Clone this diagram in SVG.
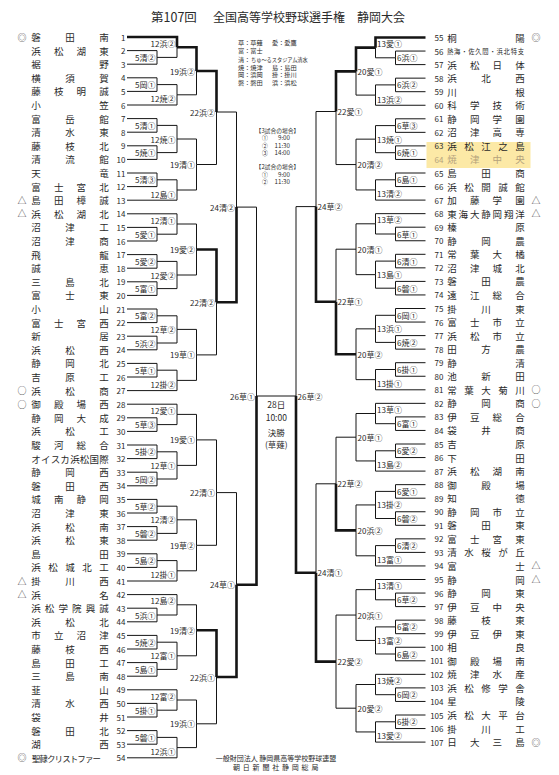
<svg xmlns="http://www.w3.org/2000/svg" width="559" height="775" viewBox="0 0 559 775">
<style>
.n{fill:none;stroke:#151515;stroke-width:1}
.k{fill:none;stroke:#151515;stroke-width:2.6}
text{font-family:"Noto Sans CJK JP","Noto Sans",sans-serif;fill:#2a2a2a;dominant-baseline:central}
.nm{font-size:9.5px;text-anchor:middle}
.nl{font-size:8px;text-anchor:end}
.nr{font-size:8px;text-anchor:end}
.mk{font-size:9px;text-anchor:middle;fill:#444}
.ll{font-size:8px;text-anchor:end}
.lr{font-size:8px;text-anchor:start}
.lg{font-size:6.2px}
.tm{font-size:5.8px}
.tt{font-size:6.2px;text-anchor:end}
.ft{font-size:7px;text-anchor:middle}
</style>
<rect width="559" height="775" fill="#fff"/>
<rect x="426.5" y="142" width="104" height="26" fill="#fce9a6"/>
<g id="title">
<text x="151" y="16" style="font-size:12.5px">第107回</text>
<text x="213" y="16" style="font-size:12px">全国高等学校野球選手権</text>
<text x="357" y="16" style="font-size:12px">静岡大会</text>
</g>
<g id="legend">
<text class="lg" x="238" y="42">草：草薙</text><text class="lg" x="272" y="42">愛：愛鷹</text>
<text class="lg" x="238" y="50.5">富：富士</text>
<text class="lg" x="238" y="59">清：</text><text x="251" y="59" style="font-size:5.2px">ちゅ～るスタジアム清水</text>
<text class="lg" x="238" y="67">焼：焼津</text><text class="lg" x="272" y="67">島：島田</text>
<text class="lg" x="238" y="74.5">岡：浜岡</text><text class="lg" x="272" y="74.5">掛：掛川</text>
<text class="lg" x="238" y="82">磐：磐田</text><text class="lg" x="272" y="82">浜：浜松</text>
</g>
<g id="times">
<text class="tm" x="277.5" y="130" text-anchor="middle">【3試合の場合】</text>
<text class="tm" x="265" y="137.7" text-anchor="middle">①</text><text class="tt" x="290" y="137.7">9:00</text>
<text class="tm" x="265" y="145.3" text-anchor="middle">②</text><text class="tt" x="290" y="145.3">11:30</text>
<text class="tm" x="265" y="152.9" text-anchor="middle">③</text><text class="tt" x="290" y="152.9">14:00</text>
<text class="tm" x="277.5" y="166.5" text-anchor="middle">【2試合の場合】</text>
<text class="tm" x="265" y="174.2" text-anchor="middle">①</text><text class="tt" x="290" y="174.2">9:00</text>
<text class="tm" x="265" y="181.8" text-anchor="middle">②</text><text class="tt" x="290" y="181.8">11:30</text>
</g>
<g id="connectors">
<path class="n" d="M127 50.6H157V57.4"/><path class="n" d="M127 64.2H157V57.4"/>
<path class="n" d="M127 77.8H157V84.6"/><path class="n" d="M127 91.4H157V84.6"/>
<path class="n" d="M127 118.6H157V125.4"/><path class="n" d="M127 132.2H157V125.4"/>
<path class="n" d="M127 145.8H157V152.6"/><path class="n" d="M127 159.4H157V152.6"/>
<path class="n" d="M127 173H157V179.8"/><path class="n" d="M127 186.6H157V179.8"/>
<path class="n" d="M127 227.4H157V234.2"/><path class="n" d="M127 241H157V234.2"/>
<path class="n" d="M127 254.6H157V261.4"/><path class="n" d="M127 268.2H157V261.4"/>
<path class="n" d="M127 281.8H157V288.6"/><path class="n" d="M127 295.4H157V288.6"/>
<path class="n" d="M127 309H157V315.8"/><path class="n" d="M127 322.6H157V315.8"/>
<path class="n" d="M127 336.2H157V343"/><path class="n" d="M127 349.8H157V343"/>
<path class="n" d="M127 363.4H157V370.2"/><path class="n" d="M127 377H157V370.2"/>
<path class="n" d="M127 417.8H157V424.6"/><path class="n" d="M127 431.4H157V424.6"/>
<path class="n" d="M127 445H157V451.8"/><path class="n" d="M127 458.6H157V451.8"/>
<path class="n" d="M127 472.2H157V479"/><path class="n" d="M127 485.8H157V479"/>
<path class="n" d="M127 499.4H157V506.2"/><path class="n" d="M127 513H157V506.2"/>
<path class="n" d="M127 526.6H157V533.4"/><path class="n" d="M127 540.2H157V533.4"/>
<path class="n" d="M127 553.8H157V560.6"/><path class="n" d="M127 567.4H157V560.6"/>
<path class="n" d="M127 608.2H157V615"/><path class="n" d="M127 621.8H157V615"/>
<path class="n" d="M127 635.4H157V642.2"/><path class="n" d="M127 649H157V642.2"/>
<path class="n" d="M127 662.6H157V669.4"/><path class="n" d="M127 676.2H157V669.4"/>
<path class="n" d="M127 703.4H157V710.2"/><path class="n" d="M127 717H157V710.2"/>
<path class="n" d="M127 730.6H157V737.4"/><path class="n" d="M127 744.2H157V737.4"/>

<path class="k" d="M127 37H177V47.2"/><path class="n" d="M157 57.4H177V47.2"/>
<path class="n" d="M157 84.6H177V94.8"/><path class="n" d="M127 105H177V94.8"/>
<path class="n" d="M157 125.4H177V139"/><path class="n" d="M157 152.6H177V139"/>
<path class="n" d="M157 179.8H177V190"/><path class="n" d="M127 200.2H177V190"/>
<path class="n" d="M127 213.8H177V224"/><path class="n" d="M157 234.2H177V224"/>
<path class="n" d="M157 261.4H177V275"/><path class="n" d="M157 288.6H177V275"/>
<path class="n" d="M157 315.8H177V329.4"/><path class="n" d="M157 343H177V329.4"/>
<path class="n" d="M157 370.2H177V380.4"/><path class="n" d="M127 390.6H177V380.4"/>
<path class="n" d="M127 404.2H177V414.4"/><path class="n" d="M157 424.6H177V414.4"/>
<path class="n" d="M157 451.8H177V465.4"/><path class="n" d="M157 479H177V465.4"/>
<path class="n" d="M157 506.2H177V519.8"/><path class="n" d="M157 533.4H177V519.8"/>
<path class="n" d="M157 560.6H177V570.8"/><path class="n" d="M127 581H177V570.8"/>
<path class="n" d="M127 594.6H177V604.8"/><path class="n" d="M157 615H177V604.8"/>
<path class="n" d="M157 642.2H177V655.8"/><path class="n" d="M157 669.4H177V655.8"/>
<path class="n" d="M127 689.8H177V700"/><path class="n" d="M157 710.2H177V700"/>
<path class="n" d="M157 737.4H177V747.6"/><path class="n" d="M127 757.8H177V747.6"/>

<path class="k" d="M177 47.2H196.5V71"/><path class="n" d="M177 94.8H196.5V71"/>
<path class="n" d="M177 139H196.5V164.5"/><path class="n" d="M177 190H196.5V164.5"/>
<path class="n" d="M177 224H196.5V249.5"/><path class="n" d="M177 275H196.5V249.5"/>
<path class="n" d="M177 329.4H196.5V354.9"/><path class="n" d="M177 380.4H196.5V354.9"/>
<path class="n" d="M177 414.4H196.5V439.9"/><path class="n" d="M177 465.4H196.5V439.9"/>
<path class="n" d="M177 519.8H196.5V545.3"/><path class="n" d="M177 570.8H196.5V545.3"/>
<path class="n" d="M177 604.8H196.5V630.3"/><path class="n" d="M177 655.8H196.5V630.3"/>
<path class="n" d="M177 700H196.5V723.8"/><path class="n" d="M177 747.6H196.5V723.8"/>

<path class="k" d="M196.5 71H216.5V112"/><path class="n" d="M196.5 164.5H216.5V112"/>
<path class="k" d="M196.5 249.5H216.5V302.2"/><path class="n" d="M196.5 354.9H216.5V302.2"/>
<path class="n" d="M196.5 439.9H216.5V492.6"/><path class="n" d="M196.5 545.3H216.5V492.6"/>
<path class="k" d="M196.5 630.3H216.5V677"/><path class="n" d="M196.5 723.8H216.5V677"/>

<path class="n" d="M216.5 112H236.5V207.1"/><path class="k" d="M216.5 302.2H236.5V207.1"/>
<path class="n" d="M216.5 492.6H236.5V584.8"/><path class="k" d="M216.5 677H236.5V584.8"/>

<path class="n" d="M236.5 207.1H256.5V396"/><path class="k" d="M236.5 584.8H256.5V396"/>
<path class="n" d="M256.5 396H296"/>
<path class="n" d="M316 206.6H296V396"/><path class="k" d="M316 572.7H296V396"/>

<path class="n" d="M336 111.5H316V206.6"/><path class="k" d="M336 301.7H316V206.6"/>
<path class="n" d="M336 483.8H316V572.7"/><path class="k" d="M336 661.6H316V572.7"/>

<path class="k" d="M356 71.4H336V111.5"/><path class="n" d="M356 164.55H336V111.5"/>
<path class="n" d="M356 249.2H336V301.7"/><path class="k" d="M356 354.25H336V301.7"/>
<path class="n" d="M356 437.2H336V483.8"/><path class="k" d="M356 530.4H336V483.8"/>
<path class="n" d="M356 615.05H336V661.6"/><path class="n" d="M356 708.2H336V661.6"/>

<path class="k" d="M375.5 47.65H356V71.4"/><path class="n" d="M375.5 95.1H356V71.4"/>
<path class="n" d="M375.5 139.15H356V164.55"/><path class="n" d="M375.5 189.95H356V164.55"/>
<path class="n" d="M375.5 223.8H356V249.2"/><path class="n" d="M375.5 274.65H356V249.2"/>
<path class="n" d="M375.5 328.85H356V354.25"/><path class="n" d="M375.5 379.65H356V354.25"/>
<path class="n" d="M375.5 413.5H356V437.2"/><path class="n" d="M375.5 460.95H356V437.2"/>
<path class="n" d="M375.5 504.95H356V530.4"/><path class="n" d="M375.5 555.8H356V530.4"/>
<path class="n" d="M375.5 589.65H356V615.05"/><path class="n" d="M375.5 640.45H356V615.05"/>
<path class="n" d="M375.5 684.5H356V708.2"/><path class="n" d="M375.5 731.95H356V708.2"/>

<path class="k" d="M425.5 37.5H375.5V47.65"/><path class="n" d="M395.5 57.8H375.5V47.65"/>
<path class="n" d="M395.5 84.9H375.5V95.1"/><path class="n" d="M425.5 105.25H375.5V95.1"/>
<path class="n" d="M395.5 125.6H375.5V139.15"/><path class="n" d="M395.5 152.7H375.5V139.15"/>
<path class="n" d="M395.5 179.8H375.5V189.95"/><path class="n" d="M425.5 200.1H375.5V189.95"/>
<path class="n" d="M425.5 213.65H375.5V223.8"/><path class="n" d="M395.5 234H375.5V223.8"/>
<path class="n" d="M395.5 261.1H375.5V274.65"/><path class="n" d="M395.5 288.2H375.5V274.65"/>
<path class="n" d="M395.5 315.3H375.5V328.85"/><path class="n" d="M395.5 342.4H375.5V328.85"/>
<path class="n" d="M395.5 369.5H375.5V379.65"/><path class="n" d="M425.5 389.8H375.5V379.65"/>
<path class="n" d="M425.5 403.35H375.5V413.5"/><path class="n" d="M395.5 423.7H375.5V413.5"/>
<path class="n" d="M395.5 450.8H375.5V460.95"/><path class="n" d="M425.5 471.1H375.5V460.95"/>
<path class="n" d="M395.5 491.4H375.5V504.95"/><path class="n" d="M395.5 518.5H375.5V504.95"/>
<path class="n" d="M395.5 545.6H375.5V555.8"/><path class="n" d="M425.5 565.95H375.5V555.8"/>
<path class="n" d="M425.5 579.5H375.5V589.65"/><path class="n" d="M395.5 599.8H375.5V589.65"/>
<path class="n" d="M395.5 626.9H375.5V640.45"/><path class="n" d="M395.5 654H375.5V640.45"/>
<path class="n" d="M425.5 674.35H375.5V684.5"/><path class="n" d="M395.5 694.7H375.5V684.5"/>
<path class="n" d="M395.5 721.8H375.5V731.95"/><path class="n" d="M425.5 742.1H375.5V731.95"/>

<path class="n" d="M425.5 51.05H395.5V57.8"/><path class="n" d="M425.5 64.6H395.5V57.8"/>
<path class="n" d="M425.5 78.15H395.5V84.9"/><path class="n" d="M425.5 91.7H395.5V84.9"/>
<path class="n" d="M425.5 118.8H395.5V125.6"/><path class="n" d="M425.5 132.35H395.5V125.6"/>
<path class="n" d="M425.5 145.9H395.5V152.7"/><path class="n" d="M425.5 159.45H395.5V152.7"/>
<path class="n" d="M425.5 173H395.5V179.8"/><path class="n" d="M425.5 186.55H395.5V179.8"/>
<path class="n" d="M425.5 227.2H395.5V234"/><path class="n" d="M425.5 240.75H395.5V234"/>
<path class="n" d="M425.5 254.3H395.5V261.1"/><path class="n" d="M425.5 267.85H395.5V261.1"/>
<path class="n" d="M425.5 281.4H395.5V288.2"/><path class="n" d="M425.5 294.95H395.5V288.2"/>
<path class="n" d="M425.5 308.5H395.5V315.3"/><path class="n" d="M425.5 322.05H395.5V315.3"/>
<path class="n" d="M425.5 335.6H395.5V342.4"/><path class="n" d="M425.5 349.15H395.5V342.4"/>
<path class="n" d="M425.5 362.7H395.5V369.5"/><path class="n" d="M425.5 376.25H395.5V369.5"/>
<path class="n" d="M425.5 416.9H395.5V423.7"/><path class="n" d="M425.5 430.45H395.5V423.7"/>
<path class="n" d="M425.5 444H395.5V450.8"/><path class="n" d="M425.5 457.55H395.5V450.8"/>
<path class="n" d="M425.5 484.65H395.5V491.4"/><path class="n" d="M425.5 498.2H395.5V491.4"/>
<path class="n" d="M425.5 511.75H395.5V518.5"/><path class="n" d="M425.5 525.3H395.5V518.5"/>
<path class="n" d="M425.5 538.85H395.5V545.6"/><path class="n" d="M425.5 552.4H395.5V545.6"/>
<path class="n" d="M425.5 593.05H395.5V599.8"/><path class="n" d="M425.5 606.6H395.5V599.8"/>
<path class="n" d="M425.5 620.15H395.5V626.9"/><path class="n" d="M425.5 633.7H395.5V626.9"/>
<path class="n" d="M425.5 647.25H395.5V654"/><path class="n" d="M425.5 660.8H395.5V654"/>
<path class="n" d="M425.5 687.9H395.5V694.7"/><path class="n" d="M425.5 701.45H395.5V694.7"/>
<path class="n" d="M425.5 715H395.5V721.8"/><path class="n" d="M425.5 728.55H395.5V721.8"/>
</g>
<g id="match-labels">
<text class="ll" x="155.5" y="57.4">5清②</text><text class="ll" x="155.5" y="84.6">5岡①</text>
<text class="ll" x="155.5" y="125.4">5清①</text><text class="ll" x="155.5" y="152.6">5焼①</text>
<text class="ll" x="155.5" y="179.8">5清③</text><text class="ll" x="155.5" y="234.2">5愛①</text>
<text class="ll" x="155.5" y="261.4">5愛②</text><text class="ll" x="155.5" y="288.6">5富①</text>
<text class="ll" x="155.5" y="315.8">5富②</text><text class="ll" x="155.5" y="343">5浜②</text>
<text class="ll" x="155.5" y="370.2">5草①</text><text class="ll" x="155.5" y="424.6">5草③</text>
<text class="ll" x="155.5" y="451.8">5掛②</text><text class="ll" x="155.5" y="479">5岡②</text>
<text class="ll" x="155.5" y="506.2">5草②</text><text class="ll" x="155.5" y="533.4">5磐②</text>
<text class="ll" x="155.5" y="560.6">5島②</text><text class="ll" x="155.5" y="615">5浜①</text>
<text class="ll" x="155.5" y="642.2">5焼②</text><text class="ll" x="155.5" y="669.4">5島①</text>
<text class="ll" x="155.5" y="710.2">5掛①</text><text class="ll" x="155.5" y="737.4">5磐①</text>
<text class="ll" x="175.5" y="43.2">12浜②</text><text class="ll" x="175.5" y="98.8">12焼②</text>
<text class="ll" x="175.5" y="139">12焼①</text><text class="ll" x="175.5" y="194">12島①</text>
<text class="ll" x="175.5" y="220">12清①</text><text class="ll" x="175.5" y="275">12愛②</text>
<text class="ll" x="175.5" y="329.4">12草②</text><text class="ll" x="175.5" y="384.4">12掛②</text>
<text class="ll" x="175.5" y="410.4">12愛①</text><text class="ll" x="175.5" y="465.4">12草①</text>
<text class="ll" x="175.5" y="519.8">12清②</text><text class="ll" x="175.5" y="574.8">12掛①</text>
<text class="ll" x="175.5" y="600.8">12島②</text><text class="ll" x="175.5" y="655.8">12富①</text>
<text class="ll" x="175.5" y="696">12富②</text><text class="ll" x="175.5" y="751.6">12浜①</text>
<text class="ll" x="195" y="71">19浜②</text><text class="ll" x="195" y="164.5">19清①</text>
<text class="ll" x="195" y="249.5">19愛②</text><text class="ll" x="195" y="354.9">19草①</text>
<text class="ll" x="195" y="439.9">19愛①</text><text class="ll" x="195" y="545.3">19草②</text>
<text class="ll" x="195" y="630.3">19清②</text><text class="ll" x="195" y="723.8">19浜①</text>
<text class="ll" x="215" y="112">22浜②</text><text class="ll" x="215" y="302.2">22清②</text>
<text class="ll" x="215" y="492.6">22清①</text><text class="ll" x="215" y="677">22浜①</text>
<text class="ll" x="235" y="207.1">24清②</text><text class="ll" x="235" y="584.8">24草①</text>
<text class="ll" x="255" y="396">26草①</text>
<text class="lr" x="297.5" y="396">26草②</text>
<text class="lr" x="317.5" y="206.6">24草②</text><text class="lr" x="317.5" y="572.7">24清①</text>
<text class="lr" x="337.5" y="111.5">22愛①</text><text class="lr" x="337.5" y="301.7">22草①</text>
<text class="lr" x="337.5" y="483.8">22草②</text><text class="lr" x="337.5" y="661.6">22愛②</text>
<text class="lr" x="357.5" y="71.4">20愛①</text><text class="lr" x="357.5" y="164.55">20清②</text>
<text class="lr" x="357.5" y="249.2">20清①</text><text class="lr" x="357.5" y="354.25">20草②</text>
<text class="lr" x="357.5" y="437.2">20草①</text><text class="lr" x="357.5" y="530.4">20浜②</text>
<text class="lr" x="357.5" y="615.05">20浜①</text><text class="lr" x="357.5" y="708.2">20愛②</text>
<text class="lr" x="377" y="43.65">13愛①</text><text class="lr" x="377" y="99.1">13浜②</text>
<text class="lr" x="377" y="139.15">13焼①</text><text class="lr" x="377" y="193.95">13清②</text>
<text class="lr" x="377" y="219.8">13草②</text><text class="lr" x="377" y="274.65">13島①</text>
<text class="lr" x="377" y="328.85">13浜①</text><text class="lr" x="377" y="383.65">13掛①</text>
<text class="lr" x="377" y="409.5">13草①</text><text class="lr" x="377" y="464.95">13島②</text>
<text class="lr" x="377" y="504.95">13掛②</text><text class="lr" x="377" y="559.8">13富①</text>
<text class="lr" x="377" y="585.65">13清①</text><text class="lr" x="377" y="640.45">13富②</text>
<text class="lr" x="377" y="680.5">13焼②</text><text class="lr" x="377" y="735.95">13愛②</text>
<text class="lr" x="397" y="57.8">6浜①</text><text class="lr" x="397" y="84.9">6浜②</text>
<text class="lr" x="397" y="125.6">6草③</text><text class="lr" x="397" y="152.7">6焼①</text>
<text class="lr" x="397" y="179.8">6島①</text><text class="lr" x="397" y="234">6草①</text>
<text class="lr" x="397" y="261.1">6清①</text><text class="lr" x="397" y="288.2">6磐①</text>
<text class="lr" x="397" y="315.3">6岡①</text><text class="lr" x="397" y="342.4">6焼②</text>
<text class="lr" x="397" y="369.5">6掛①</text><text class="lr" x="397" y="423.7">6富①</text>
<text class="lr" x="397" y="450.8">6愛②</text><text class="lr" x="397" y="491.4">6愛①</text>
<text class="lr" x="397" y="518.5">6磐②</text><text class="lr" x="397" y="545.6">6清②</text>
<text class="lr" x="397" y="599.8">6草②</text><text class="lr" x="397" y="626.9">6富②</text>
<text class="lr" x="397" y="654">6島②</text><text class="lr" x="397" y="694.7">6岡②</text>
<text class="lr" x="397" y="721.8">6掛②</text>
</g>
<g id="final">
<text x="276.3" y="404" text-anchor="middle" style="font-size:8.5px">28日</text>
<text x="276.3" y="417.3" text-anchor="middle" style="font-size:8.5px">10:00</text>
<text x="276.3" y="431.7" text-anchor="middle" style="font-size:8.5px">決勝</text>
<text x="276.3" y="444" text-anchor="middle" style="font-size:8.5px">(草薙)</text>
</g>
<g id="teams-left">
<g id="t1"><text class="mk" x="22" y="37">◎</text><text class="nm" x="36 70 104" y="37">磐田南</text><text class="nl" x="125.5" y="37">1</text></g>
<g id="t2"><text class="nm" x="36 58.7 81.3 104" y="50.6">浜松湖東</text><text class="nl" x="125.5" y="50.6">2</text></g>
<g id="t3"><text class="nm" x="36 104" y="64.2">裾野</text><text class="nl" x="125.5" y="64.2">3</text></g>
<g id="t4"><text class="nm" x="36 70 104" y="77.8">横須賀</text><text class="nl" x="125.5" y="77.8">4</text></g>
<g id="t5"><text class="nm" x="36 58.7 81.3 104" y="91.4">藤枝明誠</text><text class="nl" x="125.5" y="91.4">5</text></g>
<g id="t6"><text class="nm" x="36 104" y="105">小笠</text><text class="nl" x="125.5" y="105">6</text></g>
<g id="t7"><text class="nm" x="36 70 104" y="118.6">富岳館</text><text class="nl" x="125.5" y="118.6">7</text></g>
<g id="t8"><text class="nm" x="36 70 104" y="132.2">清水東</text><text class="nl" x="125.5" y="132.2">8</text></g>
<g id="t9"><text class="nm" x="36 70 104" y="145.8">藤枝北</text><text class="nl" x="125.5" y="145.8">9</text></g>
<g id="t10"><text class="nm" x="36 70 104" y="159.4">清流館</text><text class="nl" x="125.5" y="159.4">10</text></g>
<g id="t11"><text class="nm" x="36 104" y="173">天竜</text><text class="nl" x="125.5" y="173">11</text></g>
<g id="t12"><text class="nm" x="36 58.7 81.3 104" y="186.6">富士宮北</text><text class="nl" x="125.5" y="186.6">12</text></g>
<g id="t13"><text class="mk" x="22" y="200.2">△</text><text class="nm" x="36 58.7 81.3 104" y="200.2">島田樟誠</text><text class="nl" x="125.5" y="200.2">13</text></g>
<g id="t14"><text class="mk" x="22" y="213.8">△</text><text class="nm" x="36 58.7 81.3 104" y="213.8">浜松湖北</text><text class="nl" x="125.5" y="213.8">14</text></g>
<g id="t15"><text class="nm" x="36 70 104" y="227.4">沼津工</text><text class="nl" x="125.5" y="227.4">15</text></g>
<g id="t16"><text class="nm" x="36 70 104" y="241">沼津商</text><text class="nl" x="125.5" y="241">16</text></g>
<g id="t17"><text class="nm" x="36 104" y="254.6">飛龍</text><text class="nl" x="125.5" y="254.6">17</text></g>
<g id="t18"><text class="nm" x="36 104" y="268.2">誠恵</text><text class="nl" x="125.5" y="268.2">18</text></g>
<g id="t19"><text class="nm" x="36 70 104" y="281.8">三島北</text><text class="nl" x="125.5" y="281.8">19</text></g>
<g id="t20"><text class="nm" x="36 70 104" y="295.4">富士東</text><text class="nl" x="125.5" y="295.4">20</text></g>
<g id="t21"><text class="nm" x="36 104" y="309">小山</text><text class="nl" x="125.5" y="309">21</text></g>
<g id="t22"><text class="nm" x="36 58.7 81.3 104" y="322.6">富士宮西</text><text class="nl" x="125.5" y="322.6">22</text></g>
<g id="t23"><text class="nm" x="36 104" y="336.2">新居</text><text class="nl" x="125.5" y="336.2">23</text></g>
<g id="t24"><text class="nm" x="36 70 104" y="349.8">浜松西</text><text class="nl" x="125.5" y="349.8">24</text></g>
<g id="t25"><text class="nm" x="36 70 104" y="363.4">静岡北</text><text class="nl" x="125.5" y="363.4">25</text></g>
<g id="t26"><text class="nm" x="36 70 104" y="377">吉原工</text><text class="nl" x="125.5" y="377">26</text></g>
<g id="t27"><text class="mk" x="22" y="390.6">○</text><text class="nm" x="36 70 104" y="390.6">浜松商</text><text class="nl" x="125.5" y="390.6">27</text></g>
<g id="t28"><text class="mk" x="22" y="404.2">○</text><text class="nm" x="36 58.7 81.3 104" y="404.2">御殿場西</text><text class="nl" x="125.5" y="404.2">28</text></g>
<g id="t29"><text class="nm" x="36 58.7 81.3 104" y="417.8">静岡大成</text><text class="nl" x="125.5" y="417.8">29</text></g>
<g id="t30"><text class="nm" x="36 70 104" y="431.4">浜松工</text><text class="nl" x="125.5" y="431.4">30</text></g>
<g id="t31"><text class="nm" x="36 58.7 81.3 104" y="445">駿河総合</text><text class="nl" x="125.5" y="445">31</text></g>
<g id="t32"><text class="nm" x="36 45.7 55.4 65.1 74.9 84.6 94.3 104" y="458.6">オイスカ浜松国際</text><text class="nl" x="125.5" y="458.6">32</text></g>
<g id="t33"><text class="nm" x="36 70 104" y="472.2">静岡西</text><text class="nl" x="125.5" y="472.2">33</text></g>
<g id="t34"><text class="nm" x="36 70 104" y="485.8">磐田西</text><text class="nl" x="125.5" y="485.8">34</text></g>
<g id="t35"><text class="nm" x="36 58.7 81.3 104" y="499.4">城南静岡</text><text class="nl" x="125.5" y="499.4">35</text></g>
<g id="t36"><text class="nm" x="36 70 104" y="513">沼津東</text><text class="nl" x="125.5" y="513">36</text></g>
<g id="t37"><text class="nm" x="36 70 104" y="526.6">浜松南</text><text class="nl" x="125.5" y="526.6">37</text></g>
<g id="t38"><text class="nm" x="36 70 104" y="540.2">浜松東</text><text class="nl" x="125.5" y="540.2">38</text></g>
<g id="t39"><text class="nm" x="36 104" y="553.8">島田</text><text class="nl" x="125.5" y="553.8">39</text></g>
<g id="t40"><text class="nm" x="36 53 70 87 104" y="567.4">浜松城北工</text><text class="nl" x="125.5" y="567.4">40</text></g>
<g id="t41"><text class="mk" x="22" y="581">△</text><text class="nm" x="36 70 104" y="581">掛川西</text><text class="nl" x="125.5" y="581">41</text></g>
<g id="t42"><text class="mk" x="22" y="594.6">△</text><text class="nm" x="36 104" y="594.6">浜名</text><text class="nl" x="125.5" y="594.6">42</text></g>
<g id="t43"><text class="nm" x="36 49.6 63.2 76.8 90.4 104" y="608.2">浜松学院興誠</text><text class="nl" x="125.5" y="608.2">43</text></g>
<g id="t44"><text class="nm" x="36 70 104" y="621.8">浜松北</text><text class="nl" x="125.5" y="621.8">44</text></g>
<g id="t45"><text class="nm" x="36 58.7 81.3 104" y="635.4">市立沼津</text><text class="nl" x="125.5" y="635.4">45</text></g>
<g id="t46"><text class="nm" x="36 70 104" y="649">藤枝西</text><text class="nl" x="125.5" y="649">46</text></g>
<g id="t47"><text class="nm" x="36 70 104" y="662.6">島田工</text><text class="nl" x="125.5" y="662.6">47</text></g>
<g id="t48"><text class="nm" x="36 70 104" y="676.2">三島南</text><text class="nl" x="125.5" y="676.2">48</text></g>
<g id="t49"><text class="nm" x="36 104" y="689.8">韮山</text><text class="nl" x="125.5" y="689.8">49</text></g>
<g id="t50"><text class="nm" x="36 70 104" y="703.4">清水西</text><text class="nl" x="125.5" y="703.4">50</text></g>
<g id="t51"><text class="nm" x="36 104" y="717">袋井</text><text class="nl" x="125.5" y="717">51</text></g>
<g id="t52"><text class="nm" x="36 70 104" y="730.6">磐田北</text><text class="nl" x="125.5" y="730.6">52</text></g>
<g id="t53"><text class="nm" x="36 104" y="744.2">湖西</text><text class="nl" x="125.5" y="744.2">53</text></g>
<g id="t54"><text class="mk" x="22" y="757.8">◎</text><text class="nm" x="36 43.6 51.2 58.8 66.4 74 81.6 89.2 96.8" y="757.8" style="font-size:8.5px">聖隷クリストファー</text><text class="nl" x="125.5" y="757.8">54</text></g>
</g>
<g id="teams-right">
<g id="t55"><text class="nr" x="443.5" y="37.5">55</text><text class="nm" x="452 520" y="37.5">桐陽</text><text class="mk" x="536" y="37.5">◎</text></g>
<g id="t56"><text class="nr" x="443.5" y="51.05">56</text><text x="447" y="51.05" textLength="77" lengthAdjust="spacing" style="font-size:6.3px">熱海・佐久間・浜北特支</text></g>
<g id="t57"><text class="nr" x="443.5" y="64.6">57</text><text class="nm" x="452 474.7 497.3 520" y="64.6">浜松日体</text></g>
<g id="t58"><text class="nr" x="443.5" y="78.15">58</text><text class="nm" x="452 486 520" y="78.15">浜北西</text></g>
<g id="t59"><text class="nr" x="443.5" y="91.7">59</text><text class="nm" x="452 520" y="91.7">川根</text></g>
<g id="t60"><text class="nr" x="443.5" y="105.25">60</text><text class="nm" x="452 474.7 497.3 520" y="105.25">科学技術</text></g>
<g id="t61"><text class="nr" x="443.5" y="118.8">61</text><text class="nm" x="452 474.7 497.3 520" y="118.8">静岡学園</text></g>
<g id="t62"><text class="nr" x="443.5" y="132.35">62</text><text class="nm" x="452 474.7 497.3 520" y="132.35">沼津高専</text></g>
<g id="t63"><text class="nr" x="443.5" y="145.9">63</text><text class="nm" x="452 469 486 503 520" y="145.9">浜松江之島</text></g>
<g id="t64"><text class="nr" x="443.5" y="159.45" style="fill:#b4a27c">64</text><text class="nm" x="452 474.7 497.3 520" y="159.45" style="fill:#b4a27c">焼津中央</text></g>
<g id="t65"><text class="nr" x="443.5" y="173">65</text><text class="nm" x="452 486 520" y="173">島田商</text></g>
<g id="t66"><text class="nr" x="443.5" y="186.55">66</text><text class="nm" x="452 469 486 503 520" y="186.55">浜松開誠館</text></g>
<g id="t67"><text class="nr" x="443.5" y="200.1">67</text><text class="nm" x="452 474.7 497.3 520" y="200.1">加藤学園</text><text class="mk" x="536" y="200.1">△</text></g>
<g id="t68"><text class="nr" x="443.5" y="213.65">68</text><text class="nm" x="452 463.3 474.7 486 497.3 508.7 520" y="213.65">東海大静岡翔洋</text><text class="mk" x="536" y="213.65">△</text></g>
<g id="t69"><text class="nr" x="443.5" y="227.2">69</text><text class="nm" x="452 520" y="227.2">榛原</text></g>
<g id="t70"><text class="nr" x="443.5" y="240.75">70</text><text class="nm" x="452 486 520" y="240.75">静岡農</text></g>
<g id="t71"><text class="nr" x="443.5" y="254.3">71</text><text class="nm" x="452 474.7 497.3 520" y="254.3">常葉大橘</text></g>
<g id="t72"><text class="nr" x="443.5" y="267.85">72</text><text class="nm" x="452 474.7 497.3 520" y="267.85">沼津城北</text></g>
<g id="t73"><text class="nr" x="443.5" y="281.4">73</text><text class="nm" x="452 486 520" y="281.4">磐田農</text></g>
<g id="t74"><text class="nr" x="443.5" y="294.95">74</text><text class="nm" x="452 474.7 497.3 520" y="294.95">遠江総合</text></g>
<g id="t75"><text class="nr" x="443.5" y="308.5">75</text><text class="nm" x="452 486 520" y="308.5">掛川東</text></g>
<g id="t76"><text class="nr" x="443.5" y="322.05">76</text><text class="nm" x="452 474.7 497.3 520" y="322.05">富士市立</text></g>
<g id="t77"><text class="nr" x="443.5" y="335.6">77</text><text class="nm" x="452 474.7 497.3 520" y="335.6">浜松市立</text></g>
<g id="t78"><text class="nr" x="443.5" y="349.15">78</text><text class="nm" x="452 486 520" y="349.15">田方農</text></g>
<g id="t79"><text class="nr" x="443.5" y="362.7">79</text><text class="nm" x="452 520" y="362.7">静清</text></g>
<g id="t80"><text class="nr" x="443.5" y="376.25">80</text><text class="nm" x="452 486 520" y="376.25">池新田</text></g>
<g id="t81"><text class="nr" x="443.5" y="389.8">81</text><text class="nm" x="452 469 486 503 520" y="389.8">常葉大菊川</text><text class="mk" x="536" y="389.8">○</text></g>
<g id="t82"><text class="nr" x="443.5" y="403.35">82</text><text class="nm" x="452 486 520" y="403.35">静岡商</text><text class="mk" x="536" y="403.35">○</text></g>
<g id="t83"><text class="nr" x="443.5" y="416.9">83</text><text class="nm" x="452 474.7 497.3 520" y="416.9">伊豆総合</text></g>
<g id="t84"><text class="nr" x="443.5" y="430.45">84</text><text class="nm" x="452 486 520" y="430.45">袋井商</text></g>
<g id="t85"><text class="nr" x="443.5" y="444">85</text><text class="nm" x="452 520" y="444">吉原</text></g>
<g id="t86"><text class="nr" x="443.5" y="457.55">86</text><text class="nm" x="452 520" y="457.55">下田</text></g>
<g id="t87"><text class="nr" x="443.5" y="471.1">87</text><text class="nm" x="452 474.7 497.3 520" y="471.1">浜松湖南</text></g>
<g id="t88"><text class="nr" x="443.5" y="484.65">88</text><text class="nm" x="452 486 520" y="484.65">御殿場</text></g>
<g id="t89"><text class="nr" x="443.5" y="498.2">89</text><text class="nm" x="452 520" y="498.2">知徳</text></g>
<g id="t90"><text class="nr" x="443.5" y="511.75">90</text><text class="nm" x="452 474.7 497.3 520" y="511.75">静岡市立</text></g>
<g id="t91"><text class="nr" x="443.5" y="525.3">91</text><text class="nm" x="452 486 520" y="525.3">磐田東</text></g>
<g id="t92"><text class="nr" x="443.5" y="538.85">92</text><text class="nm" x="452 474.7 497.3 520" y="538.85">富士宮東</text></g>
<g id="t93"><text class="nr" x="443.5" y="552.4">93</text><text class="nm" x="452 469 486 503 520" y="552.4">清水桜が丘</text></g>
<g id="t94"><text class="nr" x="443.5" y="565.95">94</text><text class="nm" x="452 520" y="565.95">富士</text><text class="mk" x="536" y="565.95">△</text></g>
<g id="t95"><text class="nr" x="443.5" y="579.5">95</text><text class="nm" x="452 520" y="579.5">静岡</text><text class="mk" x="536" y="579.5">△</text></g>
<g id="t96"><text class="nr" x="443.5" y="593.05">96</text><text class="nm" x="452 486 520" y="593.05">静岡東</text></g>
<g id="t97"><text class="nr" x="443.5" y="606.6">97</text><text class="nm" x="452 474.7 497.3 520" y="606.6">伊豆中央</text></g>
<g id="t98"><text class="nr" x="443.5" y="620.15">98</text><text class="nm" x="452 486 520" y="620.15">藤枝東</text></g>
<g id="t99"><text class="nr" x="443.5" y="633.7">99</text><text class="nm" x="452 474.7 497.3 520" y="633.7">伊豆伊東</text></g>
<g id="t100"><text class="nr" x="443.5" y="647.25">100</text><text class="nm" x="452 520" y="647.25">相良</text></g>
<g id="t101"><text class="nr" x="443.5" y="660.8">101</text><text class="nm" x="452 474.7 497.3 520" y="660.8">御殿場南</text></g>
<g id="t102"><text class="nr" x="443.5" y="674.35">102</text><text class="nm" x="452 474.7 497.3 520" y="674.35">焼津水産</text></g>
<g id="t103"><text class="nr" x="443.5" y="687.9">103</text><text class="nm" x="452 469 486 503 520" y="687.9">浜松修学舎</text></g>
<g id="t104"><text class="nr" x="443.5" y="701.45">104</text><text class="nm" x="452 520" y="701.45">星陵</text></g>
<g id="t105"><text class="nr" x="443.5" y="715">105</text><text class="nm" x="452 469 486 503 520" y="715">浜松大平台</text></g>
<g id="t106"><text class="nr" x="443.5" y="728.55">106</text><text class="nm" x="452 486 520" y="728.55">掛川工</text></g>
<g id="t107"><text class="nr" x="443.5" y="742.1">107</text><text class="nm" x="452 474.7 497.3 520" y="742.1">日大三島</text><text class="mk" x="536" y="742.1">◎</text></g>
</g>
<g id="footer">
<text class="ft" x="276" y="758">一般財団法人 静岡県高等学校野球連盟</text>
<text class="ft" x="236.5 246.3 256.1 265.9 275.7 285.5 295.3 305.1 314.9" y="766.5">朝日新聞社静岡総局</text>
</g>
</svg>
